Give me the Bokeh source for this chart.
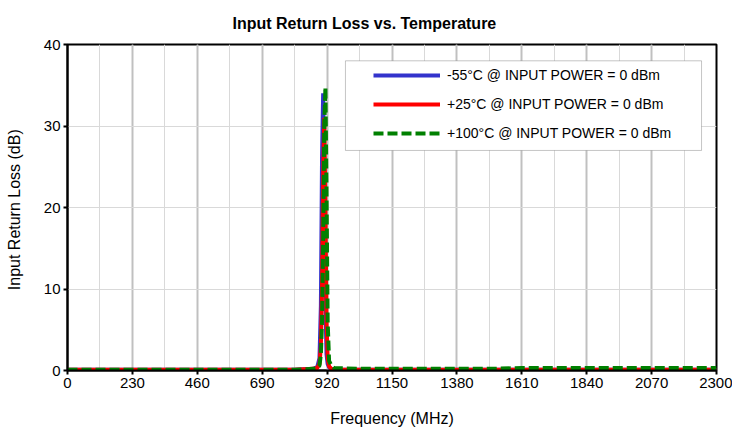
from bokeh.plotting import figure
from bokeh.models import (Range1d, SingleIntervalTicker, Legend, LegendItem,
                          BoxAnnotation, ColumnDataSource)
from bokeh.embed import file_html
from bokeh.resources import INLINE

# ---- data ----
freq_mhz = [0, 115, 230, 345, 460, 575, 690, 805, 870, 885, 893, 898, 902,
            906, 910, 914, 918, 922, 927, 935, 945, 1035, 1150, 1265, 1380,
            1495, 1610, 1725, 1840, 1955, 2070, 2185, 2300]
rl_m55 = [0.1, 0.1, 0.1, 0.1, 0.1, 0.1, 0.1, 0.1, 0.2, 0.4, 1.5, 8.0, 26.0,
          34.0, 24.0, 8.0, 2.0, 0.8, 0.4, 0.2, 0.1, 0.1, 0.1, 0.1, 0.1,
          0.1, 0.1, 0.1, 0.1, 0.1, 0.1, 0.1, 0.1]
rl_p25 = [0.1, 0.1, 0.1, 0.1, 0.1, 0.1, 0.1, 0.1, 0.2, 0.3, 0.8, 3.0, 10.0,
          24.0, 31.0, 20.0, 6.0, 1.5, 0.5, 0.2, 0.1, 0.1, 0.1, 0.1, 0.1,
          0.1, 0.1, 0.1, 0.1, 0.1, 0.1, 0.1, 0.1]
rl_p100 = [0.1, 0.1, 0.1, 0.1, 0.1, 0.1, 0.1, 0.1, 0.2, 0.3, 0.6, 2.0, 6.0,
           16.0, 30.0, 34.7, 22.0, 6.0, 1.2, 0.6, 0.3, 0.2, 0.2, 0.2, 0.2,
           0.2, 0.3, 0.3, 0.3, 0.3, 0.3, 0.3, 0.3]
series_labels = ["-55°C @ INPUT POWER = 0 dBm",
                 "+25°C @ INPUT POWER = 0 dBm",
                 "+100°C @ INPUT POWER = 0 dBm"]
x_ticks_step = 230
y_ticks_step = 10

FONT = "Liberation Sans"

p = figure(width=732, height=431, output_backend="svg", toolbar_location=None,
           x_range=Range1d(0, 2300), y_range=Range1d(0, 40),
           title="Input Return Loss vs. Temperature")
p.min_border_left = 67
p.min_border_right = 16
p.min_border_top = 44
p.min_border_bottom = 61

p.title.text_font = FONT
p.title.text_font_size = "16px"
p.title.text_font_style = "bold"
p.title.text_color = "black"
p.title.align = "left"
p.title.offset = 165
p.title.standoff = 25

p.outline_line_color = "black"
p.outline_line_width = 2

p.xaxis.ticker = SingleIntervalTicker(interval=x_ticks_step, num_minor_ticks=2)
p.yaxis.ticker = SingleIntervalTicker(interval=y_ticks_step, num_minor_ticks=0)

for ax in (p.xaxis[0], p.yaxis[0]):
    ax.axis_line_color = "black"
    ax.axis_line_width = 2
    ax.major_tick_line_color = "black"
    ax.major_tick_line_width = 2
    ax.major_tick_out = 4
    ax.major_tick_in = 0
    ax.minor_tick_line_color = None
    ax.major_label_text_font = FONT
    ax.major_label_text_font_size = "15px"
    ax.major_label_text_color = "black"
    ax.axis_label_text_font = FONT
    ax.axis_label_text_font_size = "16px"
    ax.axis_label_text_font_style = "normal"
    ax.axis_label_text_color = "black"
    ax.major_label_standoff = 3

p.xaxis.axis_label = "Frequency (MHz)"
p.yaxis.axis_label = "Input Return  Loss (dB)"
p.xaxis.axis_label_standoff = 19
p.yaxis.axis_label_standoff = 18

p.xgrid.grid_line_color = "#c0c0c0"
p.xgrid.grid_line_width = 2
p.xgrid.minor_grid_line_color = "#d9d9d9"
p.xgrid.minor_grid_line_width = 1
p.ygrid.grid_line_color = "#d9d9d9"
p.ygrid.grid_line_width = 1

src = ColumnDataSource(dict(f=freq_mhz, a=rl_m55, b=rl_p25, c=rl_p100))
r1 = p.line("f", "a", source=src, line_color="#3333CC", line_width=4)
r2 = p.line("f", "b", source=src, line_color="#FF0000", line_width=4)
r3 = p.line("f", "c", source=src, line_color="#008000", line_width=4,
            line_dash="10 4")

box = BoxAnnotation(left=985, right=2247, bottom=27.0, top=38.0,
                    fill_color="white", fill_alpha=1.0,
                    line_color="#404040", line_width=1)
p.add_layout(box)

legend = Legend(items=[LegendItem(label=series_labels[0], renderers=[r1]),
                       LegendItem(label=series_labels[1], renderers=[r2]),
                       LegendItem(label=series_labels[2], renderers=[r3])],
                location=(306, 227))
legend.border_line_color = None
legend.background_fill_alpha = 0
legend.padding = 5
legend.spacing = 9
legend.glyph_width = 67
legend.glyph_height = 20
legend.label_standoff = 7
legend.label_height = 20
legend.label_text_font = FONT
legend.label_text_font_size = "14px"
legend.label_text_color = "black"
p.add_layout(legend)

open("out.html", "w").write(file_html(p, INLINE))
